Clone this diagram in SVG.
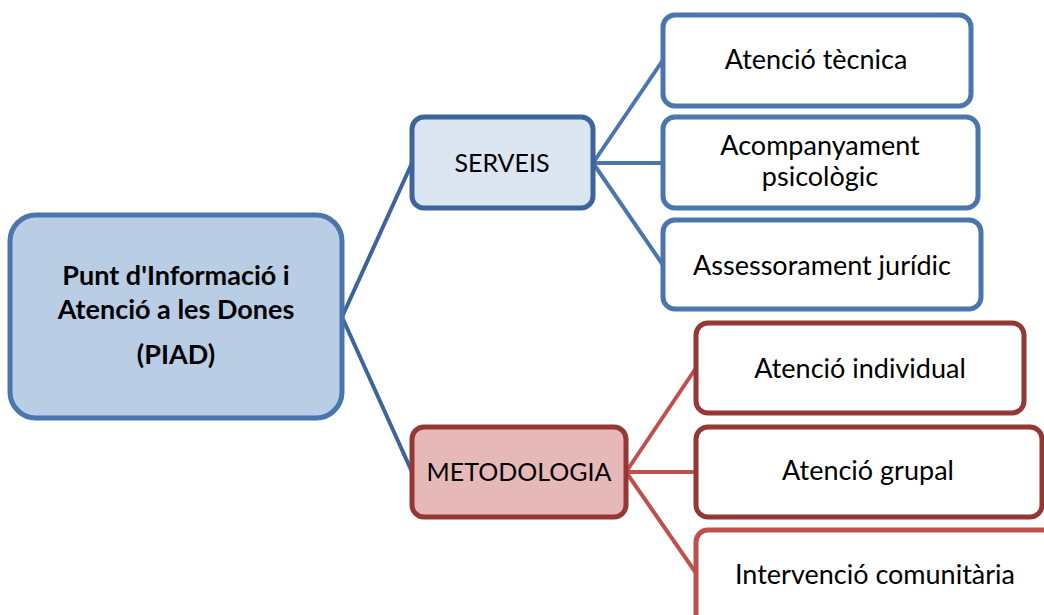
<svg xmlns="http://www.w3.org/2000/svg" width="1044" height="615" viewBox="0 0 1044 615">
<style>
text{font-family:Lato,"Open Sans",sans-serif;font-size:27px;fill:#000;text-anchor:middle}
.b{font-weight:bold;font-size:27px}
.m{font-size:25px}
.box{stroke-width:5}
.bl{fill:#fff;stroke:#4a76ad}
.rd{fill:#fff;stroke:#953735}
.cb{fill:none;stroke:#4a76ad;stroke-width:4}
.cb2{fill:none;stroke:#3d659b;stroke-width:4}
.cr{fill:none;stroke:#c0504d;stroke-width:4}
</style>
<rect width="1044" height="615" fill="#fff"/>
<g id="connectors">
<path class="cb2" d="M342,317 L412,163 M342,317 L412,472"/>
<path class="cb" d="M593,163 L663,60 M593,163 L663,163 M593,163 L663,265"/>
<path class="cr" d="M626,472 L696,368 M626,472 L696,472 M626,472 L696,573"/>
</g>
<g id="piad">
<rect class="box" x="10" y="215" width="332" height="203" rx="26" fill="#b9cde5" stroke="#4a76ad"/>
<text class="b" x="176" y="285">Punt d'Informació i</text>
<text class="b" x="176" y="319">Atenció a les Dones</text>
<text class="b" x="176" y="364">(PIAD)</text>
</g>
<g id="serveis">
<rect class="box" x="412" y="117" width="181" height="91" rx="12" fill="#dce6f2" stroke="#3d659b"/>
<text class="m" x="502" y="172">SERVEIS</text>
</g>
<g id="metodologia">
<rect class="box" x="412" y="427" width="214" height="90" rx="12" fill="#e6b9b8" stroke="#953735"/>
<text class="m" x="519" y="481">METODOLOGIA</text>
</g>
<g id="tecnica">
<rect class="box bl" x="663" y="15" width="308" height="91" rx="12"/>
<text x="816" y="69">Atenció tècnica</text>
</g>
<g id="psicologic">
<rect class="box bl" x="663" y="117" width="315" height="91" rx="12"/>
<text x="820" y="155">Acompanyament</text>
<text x="820" y="186">psicològic</text>
</g>
<g id="juridic">
<rect class="box bl" x="663" y="220" width="318" height="89" rx="12"/>
<text x="822" y="275">Assessorament jurídic</text>
</g>
<g id="individual">
<rect class="box rd" x="696" y="323" width="328" height="90" rx="12"/>
<text x="860" y="378">Atenció individual</text>
</g>
<g id="grupal">
<rect class="box rd" x="696" y="427" width="346" height="90" rx="12"/>
<text x="868" y="480">Atenció grupal</text>
</g>
<g id="comunitaria">
<rect class="box" x="696" y="530" width="360" height="100" rx="12" fill="#fff" stroke="#c0504d"/>
<text x="875" y="584">Intervenció comunitària</text>
</g>
</svg>
